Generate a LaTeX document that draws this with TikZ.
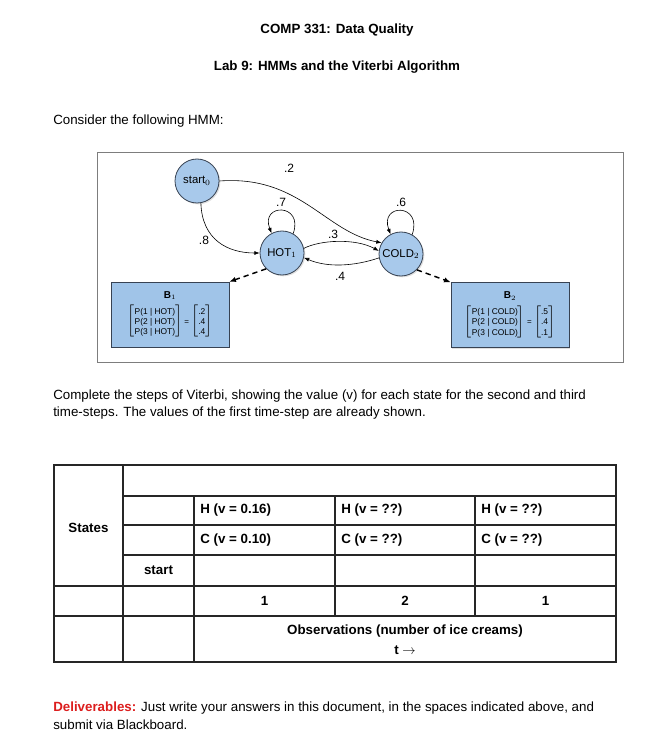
\documentclass[tikz,border=0pt]{standalone}
\usepackage{fontspec}
\setmainfont{Liberation Sans}
\usetikzlibrary{positioning,arrows.meta,shadows}
\definecolor{stateblue}{RGB}{168,201,235}
\definecolor{boxblue}{RGB}{160,196,232}
\definecolor{stateedge}{RGB}{55,66,82}
\definecolor{deepred}{RGB}{220,30,30}
\definecolor{framegray}{RGB}{125,125,125}
\newcommand{\emis}[3]{%
  {\fontsize{7.5}{8}\selectfont\bfseries B$_{#1}$}\\[3pt]
  $\left[\mbox{\fontsize{6.3}{7.6}\selectfont\begin{tabular}{@{}l@{}}P(1 | #2)\\P(2 | #2)\\P(3 | #2)\end{tabular}}\right]
  \mbox{\fontsize{6}{7}\selectfont =}
  \left[\mbox{\fontsize{6.3}{7.6}\selectfont\begin{tabular}{@{}r@{}}#3\end{tabular}}\right]$}

\begin{document}
\begin{tikzpicture}[x=0.75pt,y=-0.75pt,
    state/.style={circle,draw=stateedge,fill=stateblue,minimum size=33pt,inner sep=0pt,line width=0.6pt,
      font=\fontsize{8.5}{9}\selectfont,drop shadow={opacity=0.25,shadow xshift=1pt,shadow yshift=-1pt}},
    emission/.style={draw=stateedge,fill=boxblue,minimum width=88.5pt,minimum height=48.75pt,
      inner sep=1pt,align=center,drop shadow={opacity=0.25,shadow xshift=1pt,shadow yshift=-1pt}},
    prob/.style={font=\fontsize{9}{10}\selectfont,inner sep=0pt},
    trans/.style={-{Latex[length=4pt,width=3pt]},line width=0.45pt},
    emit/.style={-{Latex[length=5pt,width=4pt]},dash pattern=on 4pt off 3pt,line width=1.1pt},
    tableline/.style={line width=0.9pt,black!85},
    cell/.style={font=\bfseries\fontsize{10}{15}\selectfont,inner sep=0pt},
    body/.style={font=\fontsize{10}{12.75}\selectfont,align=left,inner sep=0pt,anchor=west}]
\useasboundingbox (0,0) rectangle (652,748);

% headings
\node[font=\bfseries\fontsize{10}{12}\selectfont] (title) at (337,30) {COMP 331: Data Quality};
\node[font=\bfseries\fontsize{10}{12}\selectfont] (subtitle) at (337,67) {Lab 9: HMMs and the Viterbi Algorithm};
\node[body] (consider) at (53,121) {Consider the following HMM:};

% the HMM
\draw[framegray,line width=0.6pt] (97,152) rectangle (623,362);
\node[state] (start) at (197,181) {start$_0$};
\node[state] (hot) at (282,253) {HOT$_1$};
\node[state] (cold) at (401,254) {COLD$_2$};
\node[emission] (bone) at (170,314.5) {\emis{1}{HOT}{.2\\.4\\.4}};
\node[emission] (btwo) at (510,315) {\emis{2}{COLD}{.5\\.4\\.1}};

\draw[trans] (start.280) .. controls (202,240) and (228,253) .. (hot.west);
\draw[trans] (start.east) .. controls (300,175) and (325,232) .. (cold.150);
\draw[trans] (hot.60) .. controls (304,203) and (260,203) .. (hot.118);
\draw[trans] (cold.60) .. controls (423,203) and (379,203) .. (cold.118);
\draw[trans] (hot.12) .. controls (320,240) and (355,238) .. (cold.172);
\draw[trans] (cold.190) .. controls (355,266) and (328,268) .. (hot.-12);
\draw[emit] (hot.225) -- (bone.north east);
\draw[emit] (cold.-45) -- (btwo.north west);

\node[prob] (ptwo) at (289,168) {.2};
\node[prob] (pseven) at (281,202) {.7};
\node[prob] (psix) at (401,202) {.6};
\node[prob] (pthree) at (333,234) {.3};
\node[prob] (peight) at (204,240) {.8};
\node[prob] (pfour) at (340,276) {.4};

\node[body] (task) at (53,404.5) {Complete the steps of Viterbi, showing the value (v) for each state for the second and third\\
time-steps. The values of the first time-step are already shown.};

% the trellis table
\draw[tableline] (54,465) rectangle (616,662);
\draw[tableline] (123,465) -- (123,662);
\draw[tableline] (194,496) -- (194,662);
\draw[tableline] (335,496) -- (335,616);
\draw[tableline] (475,496) -- (475,616);
\foreach \y in {496,525,555}
  \draw[tableline] (123,\y) -- (616,\y);
\foreach \y in {586,616}
  \draw[tableline] (54,\y) -- (616,\y);

\node[cell] (states) at (88.5,528) {States};
\node[cell,anchor=west] (hone) at (200,510.5) {H (v = 0.16)};
\node[cell,anchor=west] (htwo) at (341,510.5) {H (v = ??)};
\node[cell,anchor=west] (hthree) at (481,510.5) {H (v = ??)};
\node[cell,anchor=west] (cone) at (200,540) {C (v = 0.10)};
\node[cell,anchor=west] (ctwo) at (341,540) {C (v = ??)};
\node[cell,anchor=west] (cthree) at (481,540) {C (v = ??)};
\node[cell] (startrow) at (158.5,570.5) {start};
\node[cell] (oone) at (264.5,601) {1};
\node[cell] (otwo) at (405,601) {2};
\node[cell] (othree) at (545.5,601) {1};
\node[cell,align=center] (obs) at (405,639.5) {Observations (number of ice creams)\\t $\rightarrow$};

\node[body,font=\fontsize{10}{13.5}\selectfont] (deliver) at (53,716) {\textcolor{deepred}{\bfseries Deliverables:} Just write your answers in this document, in the spaces indicated above, and\\
submit via Blackboard.};
\end{tikzpicture}
\end{document}
